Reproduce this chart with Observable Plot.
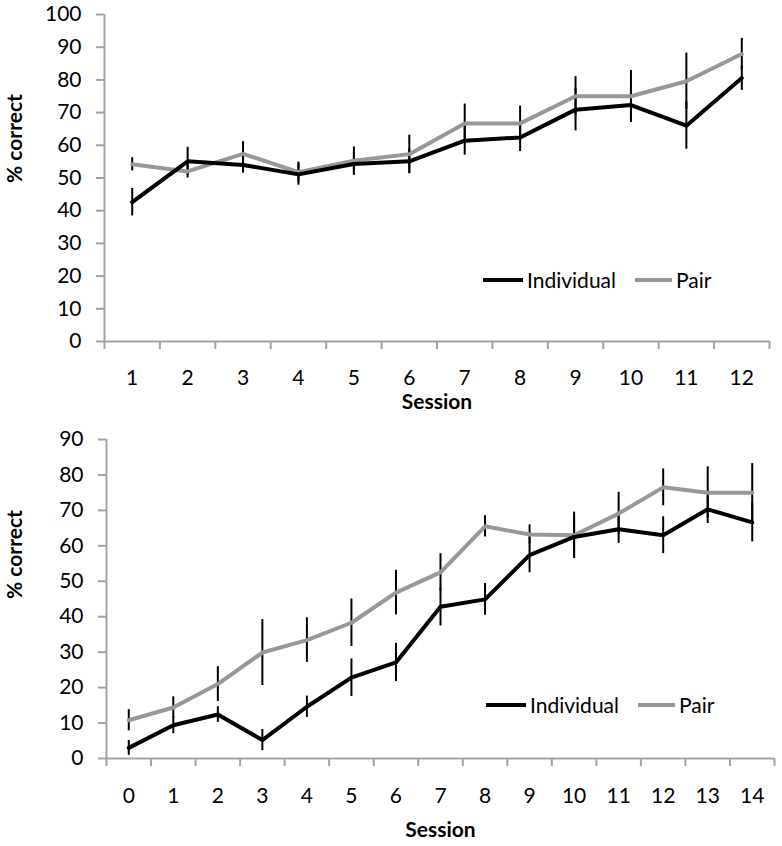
<!DOCTYPE html>
<html>
<head>
<meta charset="utf-8">
<script src="https://cdn.jsdelivr.net/npm/d3@7"></script>
<script src="https://cdn.jsdelivr.net/npm/@observablehq/plot@0.6"></script>
<style>
  html, body { margin: 0; padding: 0; background: #fff; }
  #wrap { position: relative; width: 782px; height: 846px; font-family: Lato, "Open Sans", sans-serif; }
  .panel { position: absolute; left: 0; }
  .legend { position: absolute; display: flex; align-items: center; font-size: 21px; color: #000; }
  .legend .sw { display: inline-block; height: 4px; }
  .legend span.t { margin-left: 4px; }
</style>
</head>
<body>
<div id="wrap">
  <div id="top" class="panel" style="top:0"></div>
  <div id="bottom" class="panel" style="top:418px"></div>
  <div class="legend" style="left:483px; top:267px">
    <span class="sw" style="width:40px; background:#000"></span><span class="t">Individual</span>
    <span class="sw" style="width:37px; background:#989898; margin-left:19px"></span><span class="t">Pair</span>
  </div>
  <div class="legend" style="left:486px; top:692px">
    <span class="sw" style="width:40px; background:#000"></span><span class="t">Individual</span>
    <span class="sw" style="width:37px; background:#989898; margin-left:19px"></span><span class="t">Pair</span>
  </div>
</div>
<script>
// ---- Top panel data ----
const sessionsTop = [1, 2, 3, 4, 5, 6, 7, 8, 9, 10, 11, 12];
const individualTop = [42.6, 55.1, 54.0, 51.1, 54.3, 55.1, 61.4, 62.4, 70.9, 72.3, 66.0, 80.6];
const individualTopErr = [4.2, 4.3, 2.5, 3.3, 3.5, 3.8, 4.4, 4.3, 6.5, 5.3, 7.2, 3.8];
const pairTop = [54.2, 52.0, 57.4, 51.8, 55.3, 57.3, 66.7, 66.7, 75.0, 75.0, 79.6, 87.9];
const pairTopErr = [2.0, 2.0, 3.7, 3.1, 4.2, 5.8, 5.9, 5.3, 6.0, 7.9, 8.6, 4.8];
const yTicksTop = [0, 10, 20, 30, 40, 50, 60, 70, 80, 90, 100];

// ---- Bottom panel data ----
const sessionsBottom = [0, 1, 2, 3, 4, 5, 6, 7, 8, 9, 10, 11, 12, 13, 14];
const individualBottom = [3.0, 9.4, 12.4, 5.2, 14.6, 22.8, 27.1, 42.8, 44.9, 57.4, 62.5, 64.7, 63.0, 70.3, 66.6];
const individualBottomErr = [2.1, 2.4, 2.2, 3.0, 3.0, 5.3, 5.4, 5.4, 4.5, 5.0, 6.0, 4.0, 5.2, 4.0, 5.5];
const pairBottom = [10.8, 14.4, 21.0, 29.9, 33.4, 38.3, 46.8, 52.5, 65.5, 63.2, 63.0, 69.1, 76.5, 75.0, 75.0];
const pairBottomErr = [3.0, 3.0, 4.9, 9.3, 6.3, 6.7, 6.3, 5.3, 3.0, 2.7, 6.5, 6.0, 5.2, 7.3, 8.2];
const yTicksBottom = [0, 10, 20, 30, 40, 50, 60, 70, 80, 90];

const axisGray = "#a3a3a3";
const pairGray = "#989898";

function rows(sessions, values, errs, series) {
  return sessions.map((s, i) => ({session: s, value: values[i], lo: values[i] - errs[i], hi: values[i] + errs[i], series}));
}

function panel({sessions, ind, indErr, pair, pairErr, yTicks, height, marginTop, marginBottom, marginLeft, marginRight, labelDy, sessionDy, yLabelDy}) {
  const indData = rows(sessions, ind, indErr, "Individual");
  const pairData = rows(sessions, pair, pairErr, "Pair");
  const lo = sessions[0] - 0.5, hi = sessions[sessions.length - 1] + 0.5;
  const boundaries = d3.range(lo, hi + 0.01, 1);
  const yMax = yTicks[yTicks.length - 1];
  return Plot.plot({
    width: 782,
    height,
    marginTop, marginBottom, marginLeft, marginRight,
    style: {fontFamily: "Lato, 'Open Sans', sans-serif", fontSize: "21px", color: "#000", background: "transparent", overflow: "visible"},
    x: {domain: [lo, hi]},
    y: {domain: [0, yMax]},
    marks: [
      Plot.ruleY([0], {stroke: axisGray, strokeWidth: 2}),
      Plot.ruleX([lo], {stroke: axisGray, strokeWidth: 2}),
      Plot.axisY({ticks: yTicks, tickSize: 8, tickPadding: 15, stroke: axisGray, strokeWidth: 2, label: null, fontSize: 21}),
      Plot.axisX({ticks: boundaries, tickSize: 8, stroke: axisGray, strokeWidth: 2, tickFormat: () => "", label: null}),
      Plot.axisX({ticks: sessions, tickSize: 0, tickPadding: labelDy, tickFormat: d => String(d), label: null, fontSize: 21}),
      Plot.text(["% correct"], {frameAnchor: "left", rotate: -90, dx: -(marginLeft - 15), dy: yLabelDy, fontWeight: "bold", fontSize: 21}),
      Plot.text(["Session"], {frameAnchor: "bottom", dy: sessionDy, fontWeight: "bold", fontSize: 21}),
      Plot.ruleX(pairData, {x: "session", y1: "lo", y2: "hi", stroke: "#000", strokeWidth: 2}),
      Plot.ruleX(indData, {x: "session", y1: "lo", y2: "hi", stroke: "#000", strokeWidth: 2}),
      Plot.line(pairData, {x: "session", y: "value", stroke: pairGray, strokeWidth: 4, strokeLinejoin: "miter"}),
      Plot.line(indData, {x: "session", y: "value", stroke: "#000", strokeWidth: 4, strokeLinejoin: "miter"})
    ]
  });
}

document.getElementById("top").append(panel({
  sessions: sessionsTop, ind: individualTop, indErr: individualTopErr, pair: pairTop, pairErr: pairTopErr,
  yTicks: yTicksTop, height: 418, marginTop: 14, marginBottom: 77, marginLeft: 104, marginRight: 13,
  labelDy: 29, sessionDy: 67, yLabelDy: 5
}));
document.getElementById("bottom").append(panel({
  sessions: sessionsBottom, ind: individualBottom, indErr: individualBottomErr, pair: pairBottom, pairErr: pairBottomErr,
  yTicks: yTicksBottom, height: 428, marginTop: 21, marginBottom: 88, marginLeft: 106, marginRight: 8,
  labelDy: 30, sessionDy: 78, yLabelDy: 0
}));
</script>
</body>
</html>
